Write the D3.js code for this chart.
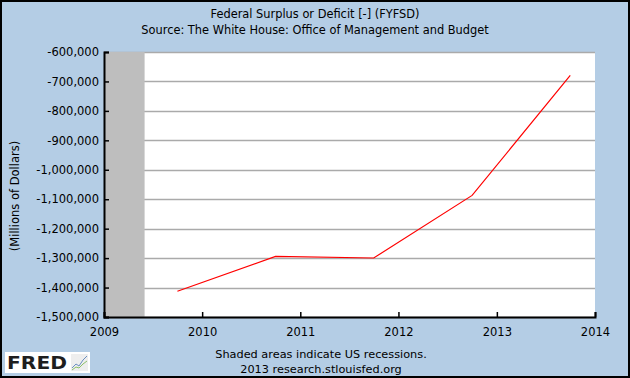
<!DOCTYPE html>
<html>
<head>
<meta charset="utf-8">
<script src="https://cdn.jsdelivr.net/npm/d3@7"></script>
<style>
html,body{margin:0;padding:0;background:#fff;}
svg{display:block;}
text{font-family:"DejaVu Sans",Verdana,sans-serif;}
</style>
</head>
<body>
<svg id="chart" width="630" height="378"></svg>
<script>
// Data
const dates = ["2009-10-01","2010-10-01","2011-10-01","2012-10-01","2013-10-01"];
const values = [-1412688, -1294373, -1299599, -1086963, -679775];
const yTicks = [-600000,-700000,-800000,-900000,-1000000,-1100000,-1200000,-1300000,-1400000,-1500000];
const xTickYears = [2009,2010,2011,2012,2013,2014];
const recessions = [["2009-01-01","2009-06-01"]];
const titleLines = ["Federal Surplus or Deficit [-] (FYFSD)","Source: The White House: Office of Management and Budget"];
const yLabel = "(Millions of Dollars)";
const footLines = ["Shaded areas indicate US recessions.","2013 research.stlouisfed.org"];

const parse = d3.timeParse("%Y-%m-%d");
const svg = d3.select("#chart");
const W = 630, H = 378;
const plot = {left:104, right:595, top:52, bottom:317};

svg.append("rect").attr("x",0).attr("y",0).attr("width",W).attr("height",H).attr("fill","#b4cde5");
svg.append("rect").attr("x",1).attr("y",1).attr("width",W-2).attr("height",H-2)
  .attr("fill","none").attr("stroke","#000").attr("stroke-width",2);

const x = d3.scaleTime()
  .domain([new Date(2009,0,1), new Date(2014,0,1)])
  .range([plot.left, plot.right]);
const y = d3.scaleLinear()
  .domain([-1500000, -600000])
  .range([plot.bottom, plot.top]);

// plot background
svg.append("rect").attr("x",plot.left).attr("y",plot.top)
  .attr("width",plot.right-plot.left).attr("height",plot.bottom-plot.top).attr("fill","#fff");

// gridlines
svg.append("g").selectAll("line").data(yTicks).join("line")
  .attr("x1",plot.left).attr("x2",plot.right)
  .attr("y1",d=>Math.round(y(d))+0.5).attr("y2",d=>Math.round(y(d))+0.5)
  .attr("stroke","#aaaaaa").attr("stroke-width",1.5);

// recessions
svg.append("g").selectAll("rect").data(recessions).join("rect")
  .attr("x",d=>x(parse(d[0]))).attr("y",plot.top)
  .attr("width",d=>x(parse(d[1]))-x(parse(d[0])))
  .attr("height",plot.bottom-plot.top)
  .attr("fill","#bebebe");

// line
const pts = dates.map((d,i)=>({date:parse(d), v:values[i]}));
svg.append("path").datum(pts)
  .attr("fill","none").attr("stroke","#ff0000").attr("stroke-width",1.2)
  .attr("d", d3.line().x(d=>x(d.date)).y(d=>y(d.v)));

// Y axis
const fmt = d3.format(",");
const yAxis = d3.axisLeft(y).tickValues(yTicks).tickSize(-5).tickPadding(5)
  .tickFormat(d=>fmt(d).replace("−","-"));
const gy = svg.append("g").attr("transform",`translate(${plot.left},0)`).call(yAxis);
gy.select(".domain").attr("stroke","#000").attr("stroke-width",2);
gy.selectAll(".tick line").attr("stroke","#000").attr("stroke-width",1.5);
gy.selectAll(".tick text").attr("font-size","11.5px").attr("fill","#000")
  .attr("font-family","'DejaVu Sans',Verdana,sans-serif");

// X axis
const xAxis = d3.axisBottom(x)
  .tickValues(xTickYears.map(yr=>new Date(yr,0,1)))
  .tickSize(-5).tickPadding(5).tickFormat(d3.timeFormat("%Y"));
const gx = svg.append("g").attr("transform",`translate(0,${plot.bottom})`).call(xAxis);
gx.select(".domain").attr("stroke","#000").attr("stroke-width",2);
gx.selectAll(".tick line").attr("stroke","#000").attr("stroke-width",1.5);
gx.selectAll(".tick text").attr("font-size","11.5px").attr("fill","#000")
  .attr("font-family","'DejaVu Sans',Verdana,sans-serif").attr("dy","1.2em");

// titles
svg.append("g").selectAll("text").data(titleLines).join("text")
  .attr("x",W/2).attr("y",(d,i)=>18+i*15.5).attr("text-anchor","middle")
  .attr("font-size","11.4px").attr("fill","#000").text(d=>d);

// y label
svg.append("text").attr("transform","translate(19,196) rotate(-90)")
  .attr("text-anchor","middle").attr("font-size","11.5px").attr("fill","#000").text(yLabel);

// footer
svg.append("g").selectAll("text").data(footLines).join("text")
  .attr("x",321).attr("y",(d,i)=>358+i*15).attr("text-anchor","middle")
  .attr("font-size","11.3px").attr("fill","#000").text(d=>d);

// FRED logo
const logo = svg.append("g");
logo.append("rect").attr("x",5).attr("y",352).attr("width",85).attr("height",21).attr("fill","#fff");
logo.append("text").attr("x",7).attr("y",368.5).attr("font-size","17.5px").attr("font-weight","bold")
  .attr("font-family","'Liberation Sans',Arial,sans-serif").attr("fill","#1e1e1e")
  .attr("textLength",60).attr("lengthAdjust","spacingAndGlyphs")
  .text("FRED");
logo.append("rect").attr("x",71).attr("y",354).attr("width",17).attr("height",17).attr("fill","#eeeeee");
logo.append("polyline").attr("points","72,368 76,364 79,366 83,360 87,356")
  .attr("fill","none").attr("stroke","#6a8fc0").attr("stroke-width",1);
logo.append("polyline").attr("points","72,370 76,367 79,368 83,364 87,361")
  .attr("fill","none").attr("stroke","#8cc06a").attr("stroke-width",1);
</script>
</body>
</html>
